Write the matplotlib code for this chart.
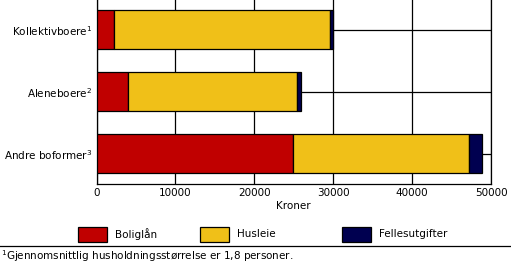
import matplotlib
matplotlib.use("Agg")
import matplotlib.pyplot as plt
import matplotlib.patches as mpatches
import numpy as np

# Data
categories = ['Kollektivboere$^{1}$', 'Aleneboere$^{2}$', 'Andre boformer$^{3}$']
boliglan = [2200, 3950, 24900]
husleie = [27400, 21450, 22250]
fellesutgifter = [350, 550, 1700]
series_names = ['Boliglån', 'Husleie', 'Fellesutgifter']
xticks = [0, 10000, 20000, 30000, 40000, 50000]

RED = '#C00000'
YELLOW = '#F0C018'
NAVY = '#000050'
colors = [RED, YELLOW, NAVY]

plt.rcParams['font.family'] = ['DejaVu Sans']
plt.rcParams['mathtext.default'] = 'regular'

W, H = 511, 263
fig = plt.figure(figsize=(W / 100, H / 100), dpi=100)
ax = fig.add_axes([96.5 / W, 1 - 184 / H, (491 - 96.5) / W, 184 / H])

y = np.arange(len(categories))
left = np.zeros(len(categories))
for vals, col in zip([boliglan, husleie, fellesutgifter], colors):
    ax.barh(y, vals, left=left, height=0.63, color=col, edgecolor='black',
            linewidth=0.9, zorder=3)
    left = left + np.array(vals)

ax.set_xlim(0, 50000)
ax.set_ylim(2.49, -0.48)
ax.set_xticks(xticks)
ax.set_xticklabels([str(t) for t in xticks], fontsize=7.5)
ax.set_yticks(y)
ax.set_yticklabels(categories, fontsize=7.5)
ax.tick_params(length=0, pad=3)
ax.grid(True, color='black', linewidth=0.9, zorder=0)
for s in ['left', 'bottom', 'right']:
    ax.spines[s].set_linewidth(0.9)
ax.spines['top'].set_visible(False)
ax.set_xlabel('Kroner', fontsize=7.5, labelpad=2)

# Legend drawn manually in figure pixels
legend_x = [78, 200, 342]
for lx, col, name in zip(legend_x, colors, series_names):
    fig.add_artist(mpatches.Rectangle((lx / W, 1 - 242 / H), 29 / W, 15 / H,
                                      facecolor=col, edgecolor='black',
                                      linewidth=0.9, transform=fig.transFigure))
    fig.text((lx + 37) / W, 1 - 234 / H, name, fontsize=7.5, va='center', ha='left')

fig.add_artist(plt.Line2D([0, 1], [1 - 246 / H, 1 - 246 / H], color='black',
                          linewidth=0.9, transform=fig.transFigure))
fig.text(1 / W, 1 - 256 / H, '$^{1}$Gjennomsnittlig husholdningsstørrelse er 1,8 personer.',
         fontsize=7.5, va='center', ha='left')

fig.savefig('out.png', dpi=100)
